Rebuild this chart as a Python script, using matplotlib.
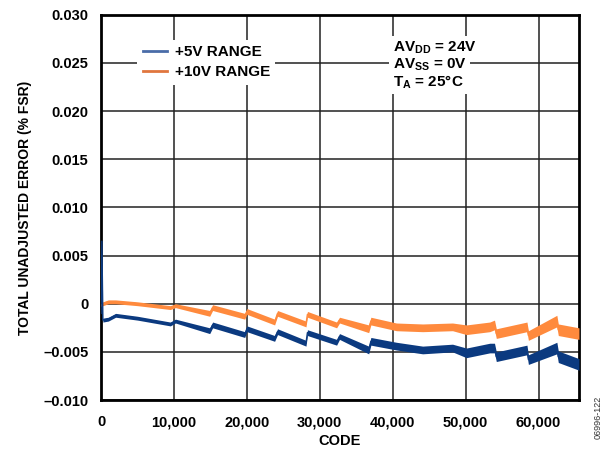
import matplotlib
matplotlib.use("Agg")
import matplotlib.pyplot as plt
from matplotlib.lines import Line2D

plt.rcParams["font.family"] = ["Liberation Sans", "DejaVu Sans"]
plt.rcParams["font.weight"] = "bold"
plt.rcParams["mathtext.fontset"] = "custom"
plt.rcParams["mathtext.rm"] = "Liberation Sans:bold"
plt.rcParams["mathtext.it"] = "Liberation Sans:bold"
plt.rcParams["mathtext.bf"] = "Liberation Sans:bold"

# breakpoints (code, %FSR)
codes = [0, 120, 250, 1000, 2000, 5000, 9500, 10200, 14900, 15300, 19700, 20000,
         23800, 24200, 28100, 28300, 32300, 32700, 36700, 37000, 40500, 44100,
         48200, 50100, 53300, 53950, 54200, 58400, 58600, 62500, 62700, 65535]
err_5v = [-0.0010, 0.0065, -0.0017, -0.0016, -0.0012, -0.0015, -0.0021, -0.0018,
          -0.0028, -0.0022, -0.0032, -0.0026, -0.0036, -0.0029, -0.0041, -0.0030,
          -0.0040, -0.0034, -0.0048, -0.0039, -0.0044, -0.0048, -0.0046, -0.0051,
          -0.0046, -0.0046, -0.0055, -0.0048, -0.0058, -0.0046, -0.0055, -0.0063]
err_10v = [-0.0002, -0.0001, 0.0000, 0.0002, 0.0002, 0.0000, -0.0004, -0.0002,
           -0.0010, -0.0004, -0.0013, -0.0008, -0.0019, -0.0010, -0.0021, -0.0011,
           -0.0022, -0.0017, -0.0026, -0.0018, -0.0024, -0.0025, -0.0024, -0.0027,
           -0.0024, -0.0022, -0.0031, -0.0024, -0.0033, -0.0018, -0.0027, -0.0031]
# half width of the noise band around each breakpoint
noise = [0.0001, 0.0001, 0.0002, 0.0002, 0.0002, 0.0002, 0.0002, 0.0002,
         0.0003, 0.0003, 0.0003, 0.0003, 0.0003, 0.0003, 0.0003, 0.0003,
         0.0003, 0.0003, 0.0004, 0.0004, 0.0004, 0.0004, 0.0004, 0.0005,
         0.0005, 0.0005, 0.0005, 0.0005, 0.0005, 0.0006, 0.0006, 0.0006]

x_ticks = [0, 10000, 20000, 30000, 40000, 50000, 60000]
x_labels = ["0", "10,000", "20,000", "30,000", "40,000", "50,000", "60,000"]
y_ticks = [-0.010, -0.005, 0, 0.005, 0.010, 0.015, 0.020, 0.025, 0.030]
y_labels = ["\u20130.010", "\u20130.005", "0", "0.005", "0.010", "0.015", "0.020", "0.025", "0.030"]

blue = "#0b3a80"
orange = "#ff8a3d"

fig = plt.figure(figsize=(6.05, 4.49), dpi=100)
ax = fig.add_axes([0.167, 0.109, 0.79, 0.858])

lo5 = [v - n for v, n in zip(err_5v, noise)]
hi5 = [v + n for v, n in zip(err_5v, noise)]
lo10 = [v - n for v, n in zip(err_10v, noise)]
hi10 = [v + n for v, n in zip(err_10v, noise)]

ax.fill_between(codes, lo10, hi10, color=orange, lw=0, zorder=3)
ax.plot(codes, err_10v, color=orange, lw=1.0, zorder=3)
ax.fill_between(codes, lo5, hi5, color=blue, lw=0, zorder=4)
ax.plot(codes, err_5v, color=blue, lw=1.0, zorder=4)

ax.set_xlim(0, 65535)
ax.set_ylim(-0.010, 0.030)
ax.set_xticks(x_ticks)
ax.set_xticklabels(x_labels)
ax.set_yticks(y_ticks)
ax.set_yticklabels(y_labels)
ax.tick_params(length=0, labelsize=10.5)
ax.tick_params(axis="x", pad=11)
ax.tick_params(axis="y", pad=9)
ax.grid(True, color="#222222", lw=1.1)
for s in ax.spines.values():
    s.set_linewidth(2)
    s.set_color("black")

ax.set_xlabel("CODE", fontsize=10.5, fontweight="bold", labelpad=3)
ax.set_ylabel("TOTAL UNADJUSTED ERROR (% FSR)", fontsize=10, fontweight="bold", labelpad=8)

handles = [Line2D([], [], color="#4a6ca8", lw=2),
           Line2D([], [], color="#e0763e", lw=2)]
leg = ax.legend(handles, ["+5V RANGE", "+10V RANGE"], loc="upper left",
                bbox_to_anchor=(0.06, 0.955), fontsize=11, frameon=True,
                fancybox=False, framealpha=1, edgecolor="none", handlelength=1.6,
                handletextpad=0.5, borderpad=0.35, labelspacing=0.4)
leg.set_zorder(6)
for t in leg.get_texts():
    t.set_fontweight("bold")

notes = ["AV$_{DD}$ = 24V", "AV$_{SS}$ = 0V", "T$_{A}$ = 25\u00b0C"]
note_y = [0.915, 0.870, 0.826]
for s, yy in zip(notes, note_y):
    ax.text(0.61, yy, s, transform=ax.transAxes, ha="left", va="center",
            fontsize=11, zorder=6,
            bbox=dict(facecolor="white", edgecolor="none", pad=2.5))

fig.text(0.988, 0.07, "06996-122", rotation=90, ha="center", va="center",
         fontsize=6.5, fontweight="normal", color="#333333")

fig.savefig("out.png", dpi=100)
